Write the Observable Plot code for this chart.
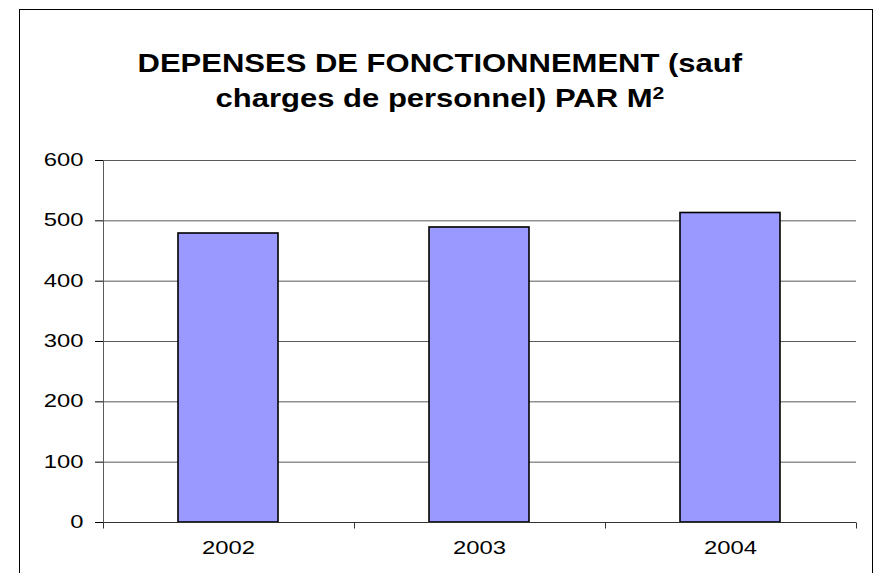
<!DOCTYPE html>
<html>
<head>
<meta charset="utf-8">
<script src="https://cdn.jsdelivr.net/npm/d3@7"></script>
<script src="https://cdn.jsdelivr.net/npm/@observablehq/plot@0.6"></script>
<style>
  html, body { margin: 0; padding: 0; background: #fff; }
  body { width: 878px; height: 573px; overflow: hidden; position: relative; font-family: "Liberation Sans", Arial, sans-serif; }
  #frame { position: absolute; left: 19px; top: 9px; width: 854px; height: 620px; border: 1px solid #000; box-sizing: border-box; }
  .tline { position: absolute; left: 0; width: 880px; text-align: center; font-weight: bold; font-size: 25px; line-height: 25px; color: #000; white-space: nowrap; }
  .tline span { display: inline-block; transform: scaleX(1.24); transform-origin: center; }
  .tline sup { font-size: 0.68em; line-height: 0; vertical-align: 0.5em; }
  #chart { position: absolute; left: 0; top: 140px; }
</style>
</head>
<body>
<div id="frame"></div>
<div class="tline" style="top:51px"><span>DEPENSES DE FONCTIONNEMENT (sauf</span></div>
<div class="tline" style="top:86px"><span>charges de personnel) PAR M<sup>2</sup></span></div>
<div id="chart"></div>
<script>
const years = ["2002", "2003", "2004"];
const values = [479, 489, 513];
const yTicks = [0, 100, 200, 300, 400, 500, 600];

const data = years.map((year, i) => ({year, value: values[i]}));

const plot = Plot.plot({
  width: 878,
  height: 433,
  marginLeft: 103,
  marginRight: 22,
  marginTop: 20,
  marginBottom: 51,
  style: {fontFamily: '"Liberation Sans", Arial, sans-serif', fontSize: "17.5px", color: "#000", background: "transparent", overflow: "visible"},
  x: {domain: years, paddingInner: 0.6, paddingOuter: 0.3, tickSize: 0, tickPadding: 19, label: null},
  y: {domain: [0, 600], ticks: yTicks, tickSize: 8, tickPadding: 12, label: null},
  marks: [
    Plot.ruleY(yTicks, {stroke: "#5a5a5a", strokeWidth: 1}),
    Plot.barY(data, {x: "year", y: "value", fill: "#9999FF", stroke: "#000", strokeWidth: 1.6}),
    Plot.ruleY([0], {stroke: "#333", strokeWidth: 1})
  ]
});

document.getElementById("chart").appendChild(plot);

// axis decorations derived from the plot's scales
const sx = plot.scale("x");
const sy = plot.scale("y");
const svg = d3.select(plot);
const gap = (sx.step - sx.bandwidth) / 2;
const y0 = sy.apply(0);
const yTop = sy.apply(d3.max(yTicks));
const bounds = years.map(y => sx.apply(y) - gap).concat([sx.apply(years[years.length - 1]) + sx.bandwidth + gap]);
const g = svg.append("g").attr("stroke", "#333");
g.selectAll("line.bt").data(bounds).join("line")
  .attr("x1", d => Math.round(d) + 0.5).attr("x2", d => Math.round(d) + 0.5)
  .attr("y1", y0 + 0.5).attr("y2", y0 + 6.5);
g.append("line")
  .attr("stroke", "#5a5a5a")
  .attr("x1", Math.round(bounds[0]) + 0.5).attr("x2", Math.round(bounds[0]) + 0.5)
  .attr("y1", yTop + 0.5).attr("y2", y0 + 0.5);

// stretch tick labels horizontally like the original
svg.selectAll("text").each(function() {
  const len = this.getComputedTextLength();
  if (len > 0) {
    this.setAttribute("textLength", (len * 1.36).toFixed(1));
    this.setAttribute("lengthAdjust", "spacingAndGlyphs");
  }
});
</script>
</body>
</html>
